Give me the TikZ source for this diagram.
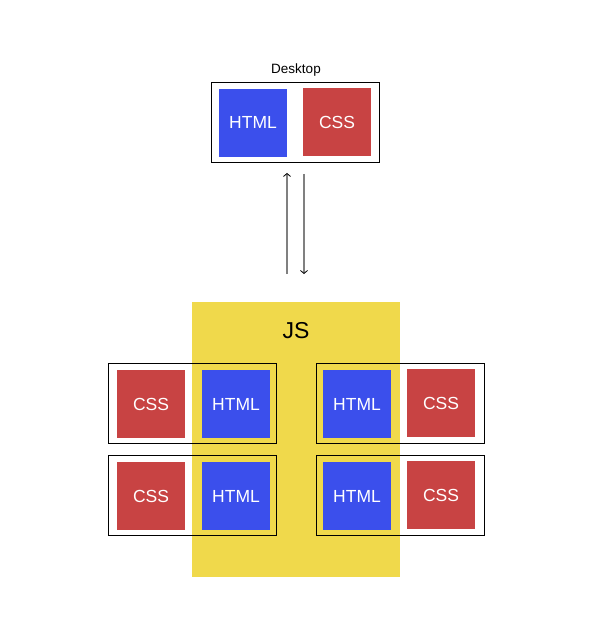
\documentclass[tikz,border=0pt]{standalone}
\usepackage{fontspec}
\setmainfont{Liberation Sans}
\usetikzlibrary{calc}
\usetikzlibrary{arrows.meta}
\definecolor{htmlblue}{RGB}{59,79,236}
\definecolor{cssred}{RGB}{200,67,67}
\definecolor{jsyellow}{RGB}{240,217,75}

\begin{document}
\begin{tikzpicture}[x=1pt, y=-1pt,
  box/.style={minimum width=68pt, minimum height=68pt, inner sep=0pt, text=white, font=\fontsize{17.5}{20}\selectfont},
  htmlbox/.style={box, fill=htmlblue},
  cssbox/.style={box, fill=cssred},
  frame/.style={draw=black, line width=0.9pt, minimum width=168pt, minimum height=80pt, inner sep=0pt},
  flow/.style={draw=gray, line width=1.2pt, -{Straight Barb[black, length=3pt, width=7pt, line width=0.8pt]}}]%
  \useasboundingbox (0,0) rectangle (595,635);
  % desktop
  \node[frame] (desk) at (295.5,122.5) {};
  \node[font=\fontsize{13.5}{16}\selectfont] (desklabel) at (296,70) {Desktop};
  \node[htmlbox] (desk-html) at ($(desk)+(-42.5,0)$) {HTML};
  \node[cssbox] (desk-css) at ($(desk)+(41.5,-0.5)$) {CSS};
  % js
  \node[fill=jsyellow, minimum width=208pt, minimum height=275pt, inner sep=0pt] (js) at (296,439.5) {};
  \node[font=\fontsize{23}{26}\selectfont] (jslabel) at (296,331) {JS};
  \foreach \name/\cy in {tl/403.5, bl/495.5} {
    \node[frame] (\name) at (192.5,\cy) {};
    \node[cssbox] (\name-css) at ($(\name)+(-41.5,0.5)$) {CSS};
    \node[htmlbox] (\name-html) at ($(\name)+(43.5,0.5)$) {HTML};
  }
  \foreach \name/\cy in {tr/403.5, br/495.5} {
    \node[frame] (\name) at (400,\cy) {};
    \node[htmlbox] (\name-html) at ($(\name)+(-43,0.5)$) {HTML};
    \node[cssbox] (\name-css) at ($(\name)+(41,-0.5)$) {CSS};
  }
  % arrows
  \coordinate (upfoot) at (287,274);
  \coordinate (downfoot) at (304,274);
  \draw[flow, shorten >=10pt] (upfoot) -- (upfoot |- desk.south);
  \draw[flow, shorten <=11pt] (downfoot |- desk.south) -- (downfoot);
\end{tikzpicture}
\end{document}
